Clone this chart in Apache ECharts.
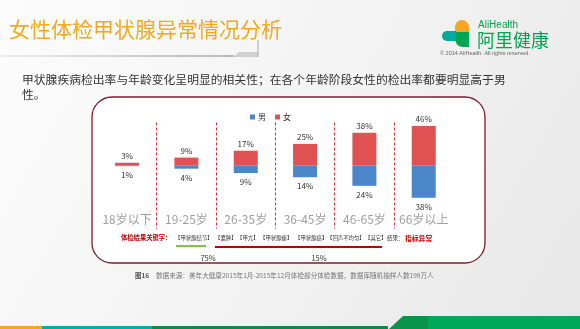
<!DOCTYPE html>
<html><head><meta charset="utf-8">
<script src="https://cdn.jsdelivr.net/npm/echarts@6/dist/echarts.min.js"></script>
<style>html,body{margin:0;padding:0;background:#fff;}#c{width:580px;height:329px;}</style>
</head><body><div id="c"></div>
<script>
const categories = ['18岁以下', '19-25岁', '26-35岁', '36-45岁', '46-65岁', '66岁以上'];
const maleRates = [1, 4, 9, 14, 24, 38];
const femaleRates = [3, 9, 17, 25, 38, 46];
const seriesNames = ['男', '女'];
const keywords = ['【甲状腺结节】', '【囊肿】', '【甲亢】', '【甲状腺瘤】', '【甲状腺癌】', '【回声不均匀】', '【其它】'];
const keywordShares = ['75%', '15%'];

const FONT = '"Noto Sans CJK SC", "Noto Sans", sans-serif';
const chart = echarts.init(document.getElementById('c'), null, {renderer: 'canvas'});

const kwX = [175, 215, 237, 260, 295, 327, 365];
const graphics = [
  {type: 'rect', z: -100, shape: {x: 0, y: 0, width: 580, height: 329},
   style: {fill: new echarts.graphic.LinearGradient(0, 0, 1, 1, [
     {offset: 0, color: '#fcfcfc'}, {offset: 0.5, color: '#f3f3f3'}, {offset: 1, color: '#e7e7e7'}])}},
  {type: 'rect', z: -50, shape: {x: 92, y: 97, width: 393, height: 166, r: 20},
   style: {fill: '#ffffff', stroke: '#7a1f2d', lineWidth: 1.3}},
  // title
  {type: 'text', z: 10, x: 9, y: 29, style: {text: '女性体检甲状腺异常情况分析', font: '21px ' + FONT, fill: '#f5a81c', verticalAlign: 'middle'}},
  {type: 'line', z: 10, shape: {x1: 0, y1: 56, x2: 234, y2: 56},
   style: {stroke: new echarts.graphic.LinearGradient(0, 0, 1, 0, [{offset: 0, color: '#eeeeee'}, {offset: 1, color: '#b8b8b8'}]), lineWidth: 2}},
  {type: 'polygon', z: 10, shape: {points: [[233, 57], [239, 52], [258, 52], [258, 57]]}, style: {fill: '#d0d0d0'}},
  {type: 'line', z: 10, shape: {x1: 258, y1: 40, x2: 258, y2: 57}, style: {stroke: '#a8a8a8', lineWidth: 1}},
  // logo
  {type: 'rect', z: 10, shape: {x: 455, y: 20, width: 14, height: 13, r: [7, 7, 0, 0]}, style: {fill: '#f5a623'}},
  {type: 'rect', z: 10, shape: {x: 455, y: 32, width: 14, height: 15, r: [0, 0, 0, 8]}, style: {fill: '#00a651'}},
  {type: 'rect', z: 11, shape: {x: 442, y: 31, width: 14, height: 10, r: [5, 0, 0, 5]}, style: {fill: '#00a99d'}},
  {type: 'text', z: 10, x: 478, y: 25, style: {text: 'AliHealth', font: '10px "Liberation Sans", Arial, sans-serif', fill: '#00a651', verticalAlign: 'middle'}},
  {type: 'text', z: 10, x: 477, y: 40, style: {text: '阿里健康', font: '18px ' + FONT, fill: '#00a651', verticalAlign: 'middle'}},
  {type: 'text', z: 10, x: 440, y: 53, style: {text: '© 2014 AliHealth. All rights reserved.', font: '5.5px "Liberation Sans", Arial, sans-serif', fill: '#666', verticalAlign: 'middle'}},
  // subtitle
  {type: 'text', z: 10, x: 22, y: 80, style: {text: '甲状腺疾病检出率与年龄变化呈明显的相关性；在各个年龄阶段女性的检出率都要明显高于男', font: '11.8px ' + FONT, fill: '#333', verticalAlign: 'middle'}},
  {type: 'text', z: 10, x: 22, y: 95, style: {text: '性。', font: '11.8px ' + FONT, fill: '#333', verticalAlign: 'middle'}},
  // keyword row
  {type: 'text', z: 10, x: 121, y: 238, style: {text: '体检结果关键字：', font: 'bold 6.3px ' + FONT, fill: '#c00000', verticalAlign: 'middle'}},
  {type: 'text', z: 10, x: 387, y: 238, style: {text: '结果：', font: '5.6px ' + FONT, fill: '#333', verticalAlign: 'middle'}},
  {type: 'text', z: 10, x: 405, y: 238, style: {text: '指标异常', font: 'bold 6.8px ' + FONT, fill: '#d40000', verticalAlign: 'middle'}},
  {type: 'line', z: 10, shape: {x1: 176, y1: 246, x2: 206, y2: 246}, style: {stroke: '#7dc832', lineWidth: 2}},
  {type: 'line', z: 10, shape: {x1: 215, y1: 247, x2: 382, y2: 247}, style: {stroke: '#c00000', lineWidth: 2}},
  {type: 'text', z: 10, x: 208, y: 258, style: {text: keywordShares[0], font: '7.5px ' + FONT, fill: '#333', align: 'center', verticalAlign: 'middle'}},
  {type: 'text', z: 10, x: 319, y: 258, style: {text: keywordShares[1], font: '7.5px ' + FONT, fill: '#333', align: 'center', verticalAlign: 'middle'}},
  // caption
  {type: 'text', z: 10, x: 135, y: 275.5, style: {text: '图16', font: 'bold 6.5px ' + FONT, fill: '#555', verticalAlign: 'middle'}},
  {type: 'text', z: 10, x: 156, y: 275.5, style: {text: '数据来源：美年大健康2015年1月-2015年12月体检部分体检数据，数据库随机抽样人数199万人', font: '6.6px ' + FONT, fill: '#777', verticalAlign: 'middle'}},
  // bottom bands
  {type: 'rect', z: 10, shape: {x: 0, y: 326, width: 42, height: 3}, style: {fill: '#f5a623'}},
  {type: 'rect', z: 10, shape: {x: 42, y: 326, width: 110, height: 3}, style: {fill: '#00b0a5'}},
  {type: 'rect', z: 10, shape: {x: 152, y: 326, width: 236, height: 3}, style: {fill: '#0b8b45'}},
  {type: 'polygon', z: 10, shape: {points: [[389, 329], [403, 316], [428, 316], [428, 329]]}, style: {fill: '#08944a'}},
  {type: 'rect', z: 10, shape: {x: 428, y: 316, width: 152, height: 13}, style: {fill: '#00a859'}}
];
keywords.forEach((k, i) => {
  graphics.push({type: 'text', z: 10, x: kwX[i], y: 238, style: {text: k, font: '5.4px ' + FONT, fill: '#333', verticalAlign: 'middle'}});
});

const option = {
  animation: false,
  textStyle: {fontFamily: FONT},
  graphic: graphics,
  legend: {
    data: seriesNames, left: 245, top: 108, itemWidth: 5, itemHeight: 5, itemGap: 9,
    icon: 'rect', textStyle: {fontSize: 8, color: '#333', padding: [0, 0, 0, -2]}
  },
  grid: {left: 97.4, right: 126.6, top: 122.5, bottom: 100.4, containLabel: false},
  xAxis: {
    type: 'category', data: categories, boundaryGap: true,
    axisLine: {show: false}, axisTick: {show: false},
    axisLabel: {interval: 0, margin: -15, fontSize: 12, color: '#a0a0a0', fontFamily: FONT},
    splitLine: {show: true, interval: 0, showMinLine: false, showMaxLine: false,
      lineStyle: {color: '#d7303c', type: [3, 2], width: 1}}
  },
  yAxis: {type: 'value', min: -74, max: 50, show: false, splitLine: {show: false}},
  series: [
    {name: seriesNames[0], type: 'bar', stack: 'rate', barWidth: 24,
     data: maleRates.map(v => -v),
     itemStyle: {color: '#4a86c8'},
     label: {show: true, position: 'bottom', distance: 5, fontSize: 8, color: '#333',
       formatter: p => Math.abs(p.value) + '%'}},
    {name: seriesNames[1], type: 'bar', stack: 'rate', barWidth: 24,
     data: femaleRates,
     itemStyle: {color: '#e05252'},
     label: {show: true, position: 'top', distance: 3, fontSize: 8, color: '#333',
       formatter: p => p.value + '%'}}
  ]
};
chart.setOption(option);
</script>
</body></html>
